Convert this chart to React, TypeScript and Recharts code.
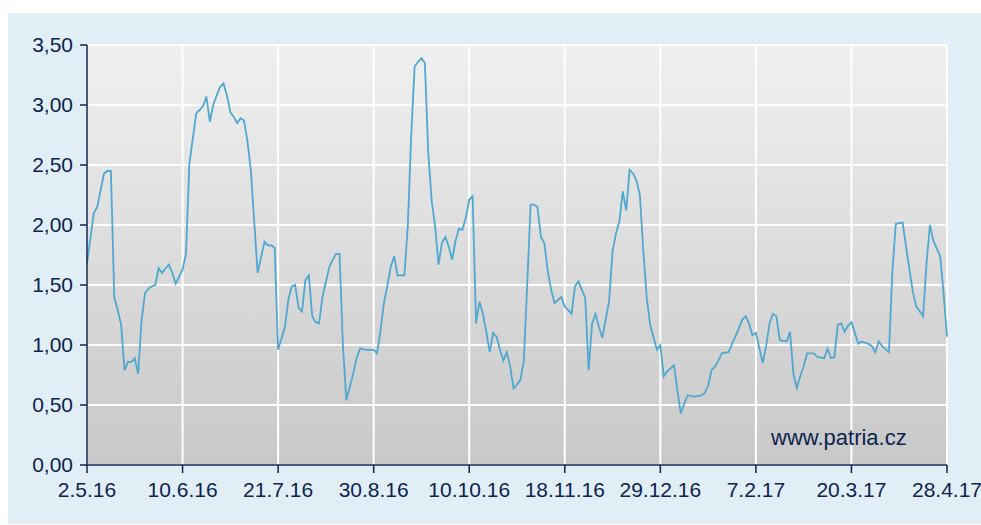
import React from 'react';
import {CartesianGrid, Line, LineChart, XAxis, YAxis} from 'recharts';

// x = trading day index since 2.5.16, one tick every 28 days
const tickDays = [0, 28, 56, 84, 112, 140, 168, 196, 224, 252];
const tickLabels = ['2.5.16', '10.6.16', '21.7.16', '30.8.16', '10.10.16', '18.11.16', '29.12.16', '7.2.17', '20.3.17', '28.4.17'];
const yTicks = [0, 0.5, 1, 1.5, 2, 2.5, 3, 3.5];

const days = [
    0, 2, 3, 5, 6, 7, 8, 9, 10, 11, 12, 13, 14, 15, 16, 17, 18, 19, 20, 21, 22, 23, 24, 25, 26, 28, 29,
    30, 32, 33, 34, 35, 36, 37, 38, 39, 40, 41, 42, 43, 44, 45, 46, 47, 48, 50, 52, 53, 54, 55, 56, 58, 59,
    60, 61, 62, 63, 64, 65, 66, 67, 68, 69, 71, 72, 73, 74, 75, 76, 78, 79, 80, 82, 84, 85, 86, 87, 88, 89,
    90, 91, 93, 94, 95, 96, 97, 98, 99, 100, 101, 102, 103, 104, 105, 106, 107, 108, 109, 110, 111, 112, 113, 114,
    115, 116, 117, 118, 119, 120, 121, 122, 123, 124, 125, 126, 127, 128, 129, 130, 131, 132, 133, 134, 135, 136, 137,
    139, 140, 141, 142, 143, 144, 145, 146, 147, 148, 149, 150, 151, 153, 154, 155, 156, 157, 158, 159, 160, 161, 162,
    163, 164, 165, 167, 168, 169, 170, 172, 173, 174, 175, 176, 178, 180, 181, 182, 183, 184, 185, 186, 188, 189, 190,
    192, 193, 194, 195, 196, 198, 199, 200, 201, 202, 203, 205, 206, 207, 208, 209, 210, 211, 213, 214, 216, 217, 218,
    219, 220, 221, 222, 223, 224, 226, 227, 229, 230, 231, 232, 233, 235, 236, 237, 239, 240, 242, 243, 245, 246, 247,
    248, 250, 251, 252,
];
const values = [
    1.68, 2.10, 2.15, 2.43, 2.45, 2.45, 1.40, 1.29, 1.17, 0.79, 0.86, 0.86, 0.89, 0.76, 1.21, 1.43, 1.47, 1.49, 1.50, 1.64, 1.60, 1.64, 1.67, 1.60, 1.51, 1.63, 1.76,
    2.51, 2.93, 2.96, 2.99, 3.07, 2.86, 3.00, 3.08, 3.15, 3.18, 3.08, 2.94, 2.90, 2.85, 2.89, 2.87, 2.70, 2.46, 1.60, 1.86, 1.83, 1.83, 1.81, 0.96, 1.15, 1.38,
    1.49, 1.50, 1.31, 1.28, 1.54, 1.58, 1.24, 1.19, 1.18, 1.40, 1.65, 1.71, 1.76, 1.76, 0.99, 0.54, 0.76, 0.89, 0.97, 0.96, 0.96, 0.93, 1.12, 1.35, 1.49, 1.65,
    1.74, 1.58, 1.58, 1.99, 2.74, 3.32, 3.36, 3.39, 3.35, 2.60, 2.20, 1.99, 1.67, 1.85, 1.90, 1.82, 1.71, 1.87, 1.97, 1.96, 2.06, 2.21, 2.24, 1.18,
    1.36, 1.26, 1.11, 0.94, 1.10, 1.07, 0.96, 0.87, 0.94, 0.82, 0.64, 0.67, 0.71, 0.87, 1.51, 2.17, 2.17, 2.15, 1.90, 1.85, 1.62, 1.46, 1.35,
    1.40, 1.32, 1.29, 1.26, 1.49, 1.53, 1.46, 1.39, 0.79, 1.18, 1.26, 1.15, 1.06, 1.37, 1.78, 1.93, 2.03, 2.28, 2.12, 2.46, 2.43, 2.37, 2.25,
    1.79, 1.40, 1.17, 0.96, 1.00, 0.74, 0.78, 0.83, 0.62, 0.43, 0.51, 0.58, 0.57, 0.58, 0.60, 0.66, 0.79, 0.82, 0.87, 0.93, 0.94, 1.01, 1.07,
    1.21, 1.24, 1.18, 1.08, 1.10, 0.85, 0.99, 1.18, 1.26, 1.24, 1.04, 1.03, 1.11, 0.76, 0.64, 0.74, 0.82, 0.93, 0.93, 0.90, 0.89, 0.97, 0.89,
    0.90, 1.17, 1.18, 1.11, 1.16, 1.19, 1.01, 1.03, 1.01, 0.99, 0.94, 1.03, 0.99, 0.94, 1.62, 2.01, 2.02, 1.82, 1.44, 1.32, 1.24, 1.68, 2.00,
    1.87, 1.74, 1.43, 1.07,
];

const data = days.map((d, i) => ({d, v: values[i]}));

const navy = '#0c2450';
const font = '"Liberation Sans", Arial, sans-serif';

const formatY = (v: number) => v.toFixed(2).replace('.', ',');
const formatX = (d: number) => tickLabels[tickDays.indexOf(d)] ?? '';

export default function App() {
    return <div style={{position: 'absolute', left: 8, top: 13, width: 973, height: 511, background: '#e1eef6', fontFamily: font}}>
        <svg width={0} height={0} style={{position: 'absolute'}}>
            <defs>
                <linearGradient id="plotBg" x1="0" y1="0" x2="0" y2="1">
                    <stop offset="0%" stopColor="#f0f0f0"/>
                    <stop offset="100%" stopColor="#c8c8c8"/>
                </linearGradient>
            </defs>
        </svg>
        <LineChart width={973} height={511} data={data} margin={{top: 32, right: 34, left: 0, bottom: 19}}>
            <CartesianGrid stroke="#ffffff" strokeWidth={2} fill="url(#plotBg)" fillOpacity={1}/>
            <XAxis dataKey="d" type="number" domain={[0, 252]} ticks={tickDays} tickFormatter={formatX}
                   interval={0} height={40} tickSize={8} tickMargin={9}
                   axisLine={{stroke: navy, strokeWidth: 1.5}} tickLine={{stroke: navy, strokeWidth: 1.5}}
                   tick={{fill: navy, fontSize: 21, fontFamily: font}}/>
            <YAxis domain={[0, 3.5]} ticks={yTicks} tickFormatter={formatY} width={79} interval={0}
                   tickSize={7} tickMargin={7}
                   axisLine={{stroke: navy, strokeWidth: 1.5}} tickLine={{stroke: navy, strokeWidth: 1.5}}
                   tick={{fill: navy, fontSize: 21, fontFamily: font}}/>
            <Line type="linear" dataKey="v" stroke="#4fa8d0" strokeWidth={1.8} dot={false} isAnimationActive={false}/>
        </LineChart>
        <div style={{position: 'absolute', left: 763, top: 412, fontSize: 22, color: navy, whiteSpace: 'nowrap'}}>www.patria.cz</div>
    </div>
}
